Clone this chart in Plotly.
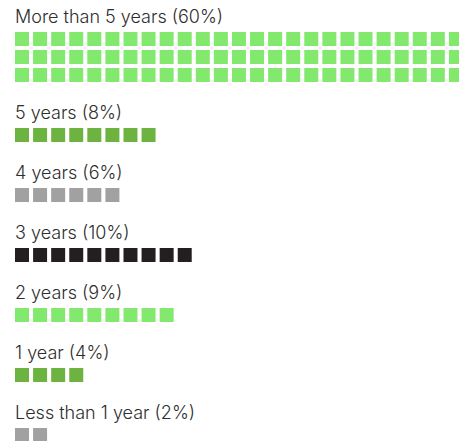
import plotly.graph_objects as go

# tenure groups
labels = ["More than 5 years (60%)", "5 years (8%)", "4 years (6%)", "3 years (10%)",
          "2 years (9%)", "1 year (4%)", "Less than 1 year (2%)"]
percents = [60, 8, 6, 10, 9, 4, 2]
squares_shown = [75, 8, 6, 10, 9, 4, 2]  # top group overflows the frame
colors = ["#82E96E", "#6DB33F", "#A1A1A1", "#231F20", "#82E96E", "#6DB33F", "#A1A1A1"]

W, H = 459, 441
per_row = 25
pitch_x = 18.08
row_h = 18
first_row_y = 39
label_gap = 22.5
group_gap = 60

fig = go.Figure()
annotations = []
y = first_row_y
for lab, n, col in zip(labels, squares_shown, colors):
    xs, ys = [], []
    for i in range(n):
        xs.append(i % per_row)
        ys.append(y + (i // per_row) * row_h)
    n_rows = (n - 1) // per_row + 1
    annotations.append(dict(x=-0.48, y=y - label_gap, xref="x", yref="y", text=lab,
                            showarrow=False, xanchor="left", yanchor="middle",
                            font=dict(family="Inter", size=18, color="#2E2E2E", weight=300)))
    fig.add_trace(go.Scatter(x=xs, y=ys, mode="markers", hoverinfo="skip",
                             marker=dict(symbol="square", size=14, color=col, line=dict(width=0))))
    y += (n_rows - 1) * row_h + group_gap

fig.update_layout(
    width=W, height=H, margin=dict(l=0, r=0, t=0, b=0),
    paper_bgcolor="white", plot_bgcolor="white", showlegend=False,
    annotations=annotations,
    xaxis=dict(range=[-22 / pitch_x, (W - 22) / pitch_x], visible=False, fixedrange=True),
    yaxis=dict(range=[H, 0], visible=False, fixedrange=True),
)

fig.write_html("out.html", config={"displayModeBar": False},
               post_script="document.body.style.margin='0';document.body.style.overflow='hidden';")
